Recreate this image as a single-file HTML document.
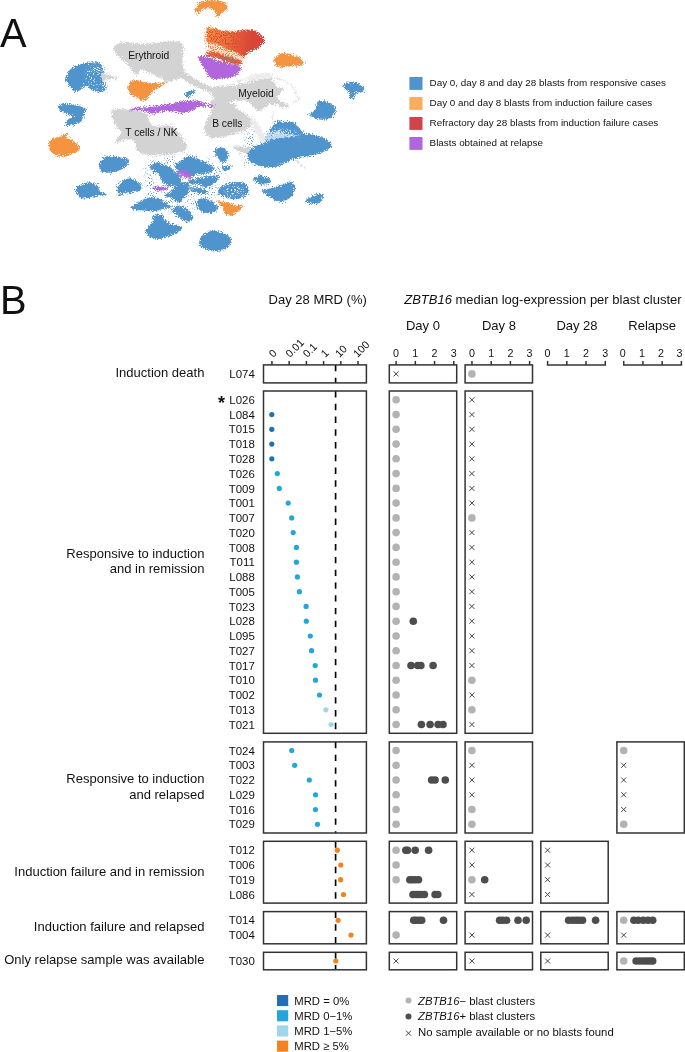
<!DOCTYPE html>
<html lang="en"><head><meta charset="utf-8"><title>Figure</title>
<style>html,body{margin:0;padding:0;background:#fff}svg{display:block}text{font-family:"Liberation Sans", sans-serif;fill:#111}</style></head><body>
<svg width="685" height="1052" viewBox="0 0 685 1052">
<defs><filter id="rough" x="-5%" y="-5%" width="110%" height="110%"><feTurbulence type="fractalNoise" baseFrequency="1.1" numOctaves="2" seed="3" result="n"/><feDisplacementMap in="SourceGraphic" in2="n" scale="7" xChannelSelector="R" yChannelSelector="G"/></filter><filter id="speck" color-interpolation-filters="sRGB" x="-10%" y="-10%" width="120%" height="120%"><feTurbulence type="fractalNoise" baseFrequency="0.95" numOctaves="1" seed="7" result="n"/><feColorMatrix in="n" type="matrix" values="0 0 0 0 0.31  0 0 0 0 0.58  0 0 0 0 0.80  9 0 0 0 -5.4" result="s"/><feGaussianBlur in="SourceGraphic" stdDeviation="2.5" result="m"/><feComposite in="s" in2="m" operator="in"/></filter><filter id="speckw" color-interpolation-filters="sRGB" x="-10%" y="-10%" width="120%" height="120%"><feTurbulence type="fractalNoise" baseFrequency="0.95" numOctaves="1" seed="23" result="n"/><feColorMatrix in="n" type="matrix" values="0 0 0 0 1  0 0 0 0 1  0 0 0 0 1  9 0 0 0 -5.2" result="s"/><feGaussianBlur in="SourceGraphic" stdDeviation="1.5" result="m"/><feComposite in="s" in2="m" operator="in"/></filter><filter id="speckr" color-interpolation-filters="sRGB" x="-10%" y="-10%" width="120%" height="120%"><feTurbulence type="fractalNoise" baseFrequency="0.9" numOctaves="1" seed="31" result="n"/><feColorMatrix in="n" type="matrix" values="0 0 0 0 0.86  0 0 0 0 0.28  0 0 0 0 0.22  9 0 0 0 -4.5" result="s"/><feGaussianBlur in="SourceGraphic" stdDeviation="1.5" result="m"/><feComposite in="s" in2="m" operator="in"/></filter><filter id="specko" color-interpolation-filters="sRGB" x="-10%" y="-10%" width="120%" height="120%"><feTurbulence type="fractalNoise" baseFrequency="0.95" numOctaves="1" seed="11" result="n"/><feColorMatrix in="n" type="matrix" values="0 0 0 0 0.94  0 0 0 0 0.50  0 0 0 0 0.24  9 0 0 0 -4.7" result="s"/><feGaussianBlur in="SourceGraphic" stdDeviation="1.2" result="m"/><feComposite in="s" in2="m" operator="in"/></filter><linearGradient id="redgrad" gradientUnits="userSpaceOnUse" x1="206" y1="36" x2="265" y2="44"><stop offset="0" stop-color="#f28c3c"/><stop offset="0.3" stop-color="#ee7a3a"/><stop offset="0.55" stop-color="#e35a38"/><stop offset="0.75" stop-color="#db4538"/><stop offset="1" stop-color="#d94238"/></linearGradient></defs>
<rect width="685" height="1052" fill="#fff"/>
<text x="0" y="46.7" font-size="39.8" fill="#000">A</text>
<path d="M150.0,160.0C155.3,155.8 166.2,155.5 175.0,155.0C183.8,154.5 194.8,154.5 203.0,157.0C211.2,159.5 220.8,164.2 224.0,170.0C227.2,175.8 225.2,185.7 222.0,192.0C218.8,198.3 212.8,205.0 205.0,208.0C197.2,211.0 184.2,211.3 175.0,210.0C165.8,208.7 155.3,205.0 150.0,200.0C144.7,195.0 143.0,186.7 143.0,180.0C143.0,173.3 144.7,164.2 150.0,160.0Z" fill="#000" filter="url(#speck)"/>
<path d="M262.0,136.0C263.0,133.0 268.2,128.8 272.0,128.0C275.8,127.2 280.3,130.0 285.0,131.0C289.7,132.0 298.8,132.7 300.0,134.0C301.2,135.3 295.7,137.7 292.0,139.0C288.3,140.3 282.3,140.8 278.0,142.0C273.7,143.2 268.7,147.0 266.0,146.0C263.3,145.0 261.0,139.0 262.0,136.0Z" fill="#000" filter="url(#speck)"/>
<path d="M244.0,126.0C247.3,125.7 257.7,133.0 260.0,138.0C262.3,143.0 260.3,151.3 258.0,156.0C255.7,160.7 249.7,165.7 246.0,166.0C242.3,166.3 237.0,162.3 236.0,158.0C235.0,153.7 238.7,145.3 240.0,140.0C241.3,134.7 240.7,126.3 244.0,126.0Z" fill="#000" filter="url(#speck)"/>
<path d="M92.0,66.0C94.0,64.0 101.3,63.7 104.0,66.0C106.7,68.3 107.7,75.7 108.0,80.0C108.3,84.3 108.0,90.7 106.0,92.0C104.0,93.3 98.3,90.3 96.0,88.0C93.7,85.7 92.7,81.7 92.0,78.0C91.3,74.3 90.0,68.0 92.0,66.0Z" fill="#000" filter="url(#speck)"/>
<path d="M207.0,42.0C209.5,41.2 216.8,44.2 222.0,46.0C227.2,47.8 234.0,51.2 238.0,53.0C242.0,54.8 245.3,55.5 246.0,57.0C246.7,58.5 245.0,61.8 242.0,62.0C239.0,62.2 232.3,59.3 228.0,58.0C223.7,56.7 219.5,55.2 216.0,54.0C212.5,52.8 208.5,53.0 207.0,51.0C205.5,49.0 204.5,42.8 207.0,42.0Z" fill="#000" filter="url(#specko)"/>
<g filter="url(#rough)">
<path d="M113.5,49.0C113.9,47.5 114.9,45.1 117.2,43.9C119.5,42.7 123.3,41.9 127.4,41.9C131.5,41.9 137.0,43.7 141.8,43.9C146.6,44.1 151.2,43.3 156.0,42.9C160.8,42.5 166.3,41.7 170.4,41.5C174.5,41.3 178.5,40.8 180.6,41.9C182.7,43.0 182.9,44.8 183.2,48.0C183.5,51.2 182.2,57.2 182.6,61.3C183.0,65.3 183.2,69.1 185.8,72.3C188.4,75.5 194.0,78.0 198.1,80.4C202.2,82.8 206.3,85.2 210.4,86.6C214.5,88.0 219.2,88.9 222.6,89.0C226.0,89.1 229.6,85.2 231.0,87.0C232.4,88.8 232.4,97.6 231.0,100.0C229.6,102.4 225.4,101.9 222.6,101.5C219.8,101.1 216.8,99.2 214.4,97.5C212.0,95.8 212.0,93.6 208.3,91.5C204.6,89.4 196.4,87.1 192.0,85.0C187.6,82.9 185.8,79.4 181.7,78.8C177.6,78.2 170.8,81.6 167.4,81.5C164.0,81.4 164.2,79.8 161.3,78.4C158.4,77.0 153.4,74.4 150.0,73.0C146.6,71.6 143.3,69.7 140.9,70.0C138.5,70.3 137.5,75.7 135.5,75.0C133.5,74.3 131.5,68.8 129.0,66.0C126.5,63.2 122.7,60.2 120.4,58.0C118.1,55.8 116.2,54.5 115.0,53.0C113.8,51.5 113.1,50.5 113.5,49.0Z" fill="#d3d3d3"/>
<path d="M100.0,73.6C101.2,72.6 105.0,74.3 108.0,75.0C111.0,75.7 118.2,77.0 118.2,77.7C118.2,78.5 110.9,79.0 108.0,79.5C105.1,80.0 102.3,82.0 101.0,81.0C99.7,80.0 98.8,74.6 100.0,73.6Z" fill="#d3d3d3"/>
<path d="M215.0,87.7C216.3,85.3 220.3,86.7 222.9,86.4C225.5,86.1 228.2,86.0 230.8,85.7C233.4,85.4 235.8,84.9 238.6,84.4C241.4,83.9 244.7,83.3 247.8,82.5C250.9,81.7 254.4,80.5 257.0,79.8C259.6,79.1 261.4,78.9 263.6,78.5C265.8,78.1 268.7,77.2 270.2,77.5C271.7,77.8 272.0,79.5 272.8,80.5C273.6,81.5 273.9,82.6 274.8,83.8C275.7,85.0 276.8,87.0 278.1,87.7C279.4,88.4 282.1,87.1 282.7,87.7C283.3,88.3 282.6,90.5 282.0,91.6C281.4,92.7 280.3,93.3 279.4,94.3C278.5,95.3 276.6,96.5 276.8,97.6C277.0,98.7 279.2,99.8 280.7,100.8C282.2,101.8 284.5,102.6 285.9,103.5C287.3,104.4 288.9,105.3 289.2,106.1C289.5,106.9 288.9,107.9 287.9,108.1C286.9,108.3 285.1,108.0 283.3,107.4C281.5,106.9 278.8,105.3 276.8,104.8C274.8,104.2 273.0,104.0 271.5,104.1C270.0,104.2 268.9,104.6 267.6,105.4C266.3,106.2 264.9,107.8 263.6,108.7C262.3,109.6 261.0,110.6 259.7,110.7C258.4,110.8 256.8,110.2 255.7,109.4C254.6,108.6 254.2,107.3 253.1,106.1C252.0,104.9 250.7,103.2 249.2,102.2C247.7,101.2 246.1,100.4 243.9,100.2C241.7,100.0 238.6,100.6 236.0,100.8C233.4,101.0 230.5,101.2 228.1,101.5C225.7,101.8 223.8,102.9 221.6,102.8C219.4,102.7 216.1,103.3 215.0,100.8C213.9,98.3 213.7,90.1 215.0,87.7Z" fill="#d3d3d3"/>
<path d="M236.0,81.8C239.1,81.0 248.7,78.1 254.4,77.2C260.1,76.3 265.8,75.9 270.2,76.3C274.6,76.7 277.2,78.3 280.7,79.8C284.2,81.3 288.6,82.7 291.2,85.1C293.8,87.5 295.2,91.9 296.5,94.3C297.8,96.7 299.4,98.1 299.1,99.5C298.8,100.9 295.3,102.0 294.5,102.5" fill="none" stroke="#e4e4e4" stroke-width="1.3" stroke-linecap="round"/>
<path d="M274.1,106.1C273.9,107.6 273.3,112.0 273.0,115.0C272.7,118.0 272.3,122.5 272.2,124.0" fill="none" stroke="#e6e6e6" stroke-width="1.0" stroke-linecap="round"/>
<path d="M252.9,119.9C253.8,121.2 256.0,124.9 258.0,128.0C260.0,131.1 263.6,136.6 264.7,138.3" fill="none" stroke="#e2e2e2" stroke-width="1.6" stroke-linecap="round"/>
<path d="M296.2,160.0C296.8,160.7 298.6,162.6 300.0,164.0C301.4,165.4 304.0,167.8 304.8,168.5" fill="none" stroke="#dcdcdc" stroke-width="1.2" stroke-linecap="round"/>
<path d="M250.0,75.5C252.2,74.2 258.3,73.8 262.0,73.5C265.7,73.2 270.7,72.9 272.0,73.5C273.3,74.1 272.3,76.1 270.0,77.0C267.7,77.9 261.5,78.3 258.0,79.0C254.5,79.7 250.3,81.6 249.0,81.0C247.7,80.4 247.8,76.8 250.0,75.5Z" fill="#ececec"/>
<path d="M204.5,127.4C204.8,125.0 206.6,121.8 207.6,119.3C208.6,116.8 209.5,114.1 210.7,112.1C211.9,110.0 213.0,107.8 215.0,107.0C217.0,106.2 220.3,107.6 222.9,107.4C225.5,107.2 228.2,105.7 230.8,106.1C233.4,106.5 236.2,108.7 238.6,110.0C241.0,111.3 243.2,112.6 245.2,114.0C247.2,115.4 249.4,117.1 250.5,118.6C251.6,120.1 252.0,121.7 251.8,123.2C251.6,124.7 251.2,126.0 249.5,127.4C247.8,128.8 244.4,130.3 241.3,131.5C238.2,132.7 234.5,133.6 231.1,134.6C227.7,135.6 224.3,137.2 220.9,137.7C217.5,138.2 213.3,138.4 210.7,137.7C208.1,137.0 206.5,135.3 205.5,133.6C204.5,131.9 204.2,129.8 204.5,127.4Z" fill="#d3d3d3"/>
<path d="M212.0,100.0C214.0,99.2 220.0,100.2 224.0,101.0C228.0,101.8 234.7,103.5 236.0,105.0C237.3,106.5 234.7,109.2 232.0,110.0C229.3,110.8 223.3,110.7 220.0,110.0C216.7,109.3 213.3,107.7 212.0,106.0C210.7,104.3 210.0,100.8 212.0,100.0Z" fill="#d3d3d3"/>
<path d="M251.0,117.0C251.5,115.8 254.2,118.8 256.0,121.0C257.8,123.2 260.3,126.7 262.0,130.0C263.7,133.3 266.0,138.3 266.0,141.0C266.0,143.7 263.3,146.7 262.0,146.0C260.7,145.3 259.5,140.0 258.0,137.0C256.5,134.0 254.2,131.3 253.0,128.0C251.8,124.7 250.5,118.2 251.0,117.0Z" fill="#ebebeb"/>
<path d="M111.4,111.1C112.2,109.4 115.1,109.4 117.8,109.1C120.5,108.8 124.3,109.2 127.5,109.5C130.7,109.8 134.2,110.6 137.1,111.1C140.0,111.6 143.2,111.9 145.1,112.7C147.0,113.5 147.7,114.6 148.4,115.9C149.1,117.2 148.4,119.1 149.2,120.7C150.0,122.3 151.2,124.6 153.2,125.5C155.2,126.4 158.3,126.3 161.2,126.3C164.1,126.2 168.4,124.7 170.8,125.2C173.2,125.7 174.1,127.8 175.7,129.5C177.3,131.2 179.2,133.3 180.5,135.1C181.8,136.8 182.6,138.1 183.7,140.0C184.8,141.9 186.8,144.7 186.9,146.4C187.0,148.1 186.1,149.3 184.5,150.4C182.9,151.5 180.4,152.1 177.3,152.8C174.2,153.5 170.0,154.3 166.0,154.7C162.0,155.1 157.2,155.4 153.2,155.2C149.2,155.0 144.6,154.4 141.9,153.6C139.2,152.8 138.2,151.9 137.1,150.4C136.0,148.9 136.3,146.5 135.5,144.8C134.7,143.1 134.2,140.8 132.3,140.0C130.4,139.2 127.2,139.5 124.3,140.0C121.3,140.5 115.5,143.8 114.6,143.2C113.7,142.6 117.6,138.6 118.7,136.7C119.8,134.8 121.6,133.8 121.1,131.9C120.5,130.0 116.8,127.6 115.4,125.5C114.1,123.4 113.7,121.5 113.0,119.1C112.3,116.7 110.6,112.8 111.4,111.1Z" fill="#d3d3d3"/>
<path d="M233.0,147.0C233.3,146.2 239.0,146.7 242.0,147.0C245.0,147.3 250.0,148.0 251.0,149.0C252.0,150.0 249.8,152.5 248.0,153.0C246.2,153.5 242.5,153.0 240.0,152.0C237.5,151.0 232.7,147.8 233.0,147.0Z" fill="#d3d3d3"/>
<path d="M66.1,77.7C66.5,75.8 67.5,72.5 69.2,70.5C70.9,68.5 73.5,66.7 76.4,65.4C79.3,64.1 83.2,63.4 86.6,62.9C90.0,62.4 94.2,61.9 96.8,62.3C99.3,62.7 100.7,63.9 101.9,65.4C103.1,66.9 104.1,69.5 103.9,71.5C103.7,73.5 100.9,75.7 100.9,77.7C100.9,79.8 103.2,81.8 103.9,83.8C104.7,85.8 105.9,88.5 105.4,89.9C104.9,91.3 103.4,92.2 100.9,92.0C98.5,91.8 93.4,89.9 90.7,88.9C88.0,87.9 86.2,85.6 84.5,85.8C82.8,86.0 81.9,89.1 80.4,89.9C78.9,90.8 77.0,91.4 75.3,90.9C73.6,90.4 71.7,88.4 70.2,86.9C68.7,85.4 67.2,83.3 66.5,81.8C65.8,80.3 65.6,79.6 66.1,77.7Z" fill="#4f94cd"/>
<path d="M58.0,106.3C58.7,105.2 61.7,104.1 64.5,103.9C67.3,103.7 71.5,104.7 74.7,105.3C77.9,105.9 82.0,106.6 83.9,107.4C85.8,108.2 86.0,108.9 86.0,110.4C86.0,111.9 84.8,114.7 83.9,116.6C83.1,118.5 82.8,120.3 80.9,121.7C79.0,123.1 75.3,124.0 72.7,124.7C70.1,125.4 66.5,126.5 65.5,125.8C64.5,125.1 65.4,122.2 66.6,120.7C67.8,119.2 72.7,117.8 72.7,116.6C72.7,115.4 68.6,114.5 66.6,113.5C64.5,112.5 61.8,111.6 60.4,110.4C59.0,109.2 57.3,107.4 58.0,106.3Z" fill="#4f94cd"/>
<path d="M185.4,92.7C186.1,91.5 189.1,91.0 190.9,90.7C192.7,90.4 195.9,90.1 196.1,90.7C196.3,91.3 193.5,93.1 192.0,94.3C190.5,95.5 188.0,98.1 186.9,97.8C185.8,97.5 184.7,93.9 185.4,92.7Z" fill="#4f94cd"/>
<path d="M342.2,86.6C342.5,85.4 345.8,83.2 347.9,82.5C350.0,81.8 352.8,81.6 355.0,82.1C357.2,82.6 359.6,84.2 361.2,85.5C362.8,86.8 364.8,89.1 364.6,90.2C364.4,91.3 361.7,91.7 360.1,92.3C358.5,92.9 355.9,92.8 355.0,93.7C354.1,94.6 355.1,97.0 354.4,97.8C353.7,98.6 351.8,99.1 350.9,98.8C350.0,98.5 349.1,96.8 348.9,95.8C348.7,94.8 350.4,93.7 349.9,92.7C349.4,91.7 347.1,90.6 345.8,89.6C344.5,88.6 341.9,87.8 342.2,86.6Z" fill="#4f94cd"/>
<path d="M308.0,115.2C308.2,114.0 313.7,112.3 315.2,110.1C316.7,107.9 315.5,103.3 317.2,101.9C318.9,100.5 322.8,101.0 325.4,101.5C328.0,102.0 330.8,103.6 332.6,105.0C334.4,106.4 335.7,108.4 336.0,110.1C336.3,111.8 335.7,113.8 334.6,115.2C333.5,116.6 331.7,117.5 329.5,118.2C327.3,119.0 323.9,119.9 321.3,119.7C318.8,119.5 316.4,118.0 314.2,117.2C312.0,116.5 307.8,116.4 308.0,115.2Z" fill="#4f94cd"/>
<path d="M265.0,137.0C265.7,135.0 268.7,131.7 272.0,131.0C275.3,130.3 280.7,132.2 285.0,133.0C289.3,133.8 296.8,134.7 298.0,135.5C299.2,136.3 295.3,137.2 292.0,138.0C288.7,138.8 282.0,139.2 278.0,140.0C274.0,140.8 270.2,143.5 268.0,143.0C265.8,142.5 264.3,139.0 265.0,137.0Z" fill="#4f94cd" fill-opacity="0.35"/>
<path d="M269.3,130.4C269.3,129.3 272.2,126.8 273.9,125.1C275.5,123.4 277.2,121.0 279.2,120.5C281.2,120.0 283.7,121.8 285.7,121.9C287.7,122.0 289.2,120.8 291.0,121.2C292.8,121.6 294.9,123.3 296.2,124.5C297.5,125.7 297.8,127.2 298.9,128.4C300.0,129.6 302.8,130.5 302.8,131.7C302.8,132.9 301.0,135.1 299.0,135.5C297.0,135.9 293.4,134.7 291.0,134.3C288.6,133.9 286.4,133.7 284.4,133.0C282.4,132.3 280.9,130.6 279.2,130.4C277.4,130.2 275.5,131.7 273.9,131.7C272.2,131.7 269.3,131.5 269.3,130.4Z" fill="#4f94cd"/>
<path d="M247.6,155.4C247.8,153.8 249.0,151.6 250.3,150.1C251.6,148.6 253.3,147.4 255.5,146.2C257.7,145.0 260.8,143.9 263.4,142.9C266.0,141.9 268.7,141.0 271.3,140.2C273.9,139.4 276.4,138.8 279.2,138.3C282.0,137.8 285.3,137.4 288.4,137.0C291.5,136.6 295.0,136.2 297.6,135.7C300.2,135.1 301.9,133.9 304.1,133.7C306.3,133.5 308.3,133.9 310.7,134.3C313.1,134.7 316.0,135.4 318.6,136.3C321.2,137.2 324.4,138.4 326.5,139.6C328.6,140.8 330.5,142.2 331.1,143.5C331.8,144.8 331.4,146.3 330.4,147.5C329.4,148.7 327.1,149.8 325.1,150.8C323.1,151.8 321.0,152.5 318.6,153.4C316.2,154.3 313.3,155.3 310.7,156.0C308.1,156.7 305.4,156.9 302.8,157.3C300.2,157.7 297.3,157.9 294.9,158.6C292.5,159.3 290.4,160.3 288.4,161.3C286.4,162.3 285.1,163.7 283.1,164.6C281.1,165.5 278.9,166.1 276.5,166.5C274.1,166.9 271.3,167.3 268.7,167.2C266.1,167.1 263.2,166.4 260.8,165.9C258.4,165.4 256.2,164.9 254.2,163.9C252.2,162.9 250.0,161.4 248.9,160.0C247.8,158.6 247.4,157.1 247.6,155.4Z" fill="#4f94cd"/>
<path d="M99.2,165.3C99.5,163.6 100.3,160.7 101.9,159.2C103.5,157.7 105.8,156.3 109.0,156.1C112.2,155.9 118.0,157.3 121.3,157.8C124.5,158.3 127.5,157.9 128.5,159.2C129.5,160.4 128.6,163.6 127.4,165.3C126.2,167.0 124.0,168.2 121.3,169.4C118.6,170.6 114.2,172.1 111.1,172.5C108.0,172.9 104.8,172.6 102.9,172.1C101.0,171.6 100.5,170.5 99.9,169.4C99.3,168.3 98.9,167.0 99.2,165.3Z" fill="#4f94cd"/>
<path d="M75.9,188.8C76.4,187.3 77.9,185.8 80.4,184.7C82.9,183.6 87.8,182.1 90.7,182.3C93.6,182.5 96.3,184.4 97.8,185.8C99.3,187.2 98.5,189.4 99.9,190.9C101.3,192.4 106.5,193.8 106.0,194.6C105.5,195.4 99.7,195.4 96.8,196.0C93.9,196.6 91.3,197.7 88.6,198.0C85.9,198.3 82.3,198.7 80.4,198.0C78.5,197.3 78.2,195.4 77.4,193.9C76.7,192.4 75.4,190.3 75.9,188.8Z" fill="#4f94cd"/>
<path d="M118.2,185.8C119.0,184.1 120.4,181.9 122.3,180.7C124.2,179.5 126.9,178.4 129.5,178.6C132.1,178.8 135.6,180.3 137.7,181.7C139.8,183.1 141.6,185.3 141.8,186.8C142.0,188.3 140.8,189.9 138.7,190.9C136.6,191.9 132.4,192.4 129.5,192.9C126.6,193.4 123.2,193.4 121.3,193.9C119.4,194.4 118.8,196.5 118.2,196.0C117.6,195.5 117.8,192.6 117.8,190.9C117.8,189.2 117.5,187.5 118.2,185.8Z" fill="#4f94cd"/>
<path d="M131.5,207.2C132.5,205.8 136.6,202.7 139.7,201.1C142.8,199.5 146.8,197.9 149.9,197.4C153.0,196.9 155.4,197.1 158.1,198.0C160.8,198.9 164.2,201.6 166.3,203.1C168.4,204.6 171.1,206.2 170.4,207.2C169.7,208.2 165.3,208.6 162.2,209.3C159.1,210.0 155.4,211.1 152.0,211.3C148.6,211.5 144.9,210.6 141.8,210.3C138.7,210.0 135.3,210.2 133.6,209.7C131.9,209.2 130.5,208.6 131.5,207.2Z" fill="#4f94cd"/>
<path d="M145.8,230.7C146.2,229.2 148.7,227.3 149.9,225.6C151.1,223.9 152.6,222.1 153.0,220.5C153.4,218.9 151.0,216.8 152.4,215.8C153.8,214.8 159.2,213.8 161.2,214.4C163.2,215.0 162.7,218.0 164.2,219.5C165.7,221.0 167.4,222.3 170.4,223.6C173.4,224.9 180.7,226.0 182.0,227.3C183.3,228.7 180.4,230.3 178.5,231.7C176.6,233.1 173.5,234.6 170.4,235.8C167.3,237.0 163.2,238.6 160.1,238.9C157.0,239.2 154.1,238.6 152.0,237.9C149.9,237.2 148.5,236.0 147.5,234.8C146.5,233.6 145.4,232.2 145.8,230.7Z" fill="#4f94cd"/>
<path d="M171.9,209.5C172.2,208.3 174.9,206.8 177.0,206.4C179.1,206.1 182.0,206.4 184.2,207.4C186.4,208.4 189.0,210.7 190.3,212.6C191.7,214.5 192.8,217.2 192.3,218.7C191.8,220.2 189.1,221.8 187.2,221.8C185.3,221.8 183.1,220.1 181.1,218.7C179.1,217.3 176.5,215.1 175.0,213.6C173.5,212.1 171.6,210.7 171.9,209.5Z" fill="#4f94cd"/>
<path d="M174.6,165.1C175.0,163.8 178.7,163.1 180.5,161.8C182.3,160.5 183.9,158.1 185.7,157.2C187.4,156.3 189.0,156.4 191.0,156.6C193.0,156.8 195.4,157.6 197.6,158.5C199.8,159.4 201.9,160.7 204.1,161.8C206.3,162.9 209.0,164.0 210.7,165.1C212.3,166.2 213.8,167.3 214.0,168.4C214.2,169.5 213.2,170.9 212.0,171.7C210.8,172.5 208.8,172.6 206.8,173.0C204.8,173.4 202.4,174.0 200.2,174.3C198.0,174.6 195.6,174.7 193.6,175.0C191.6,175.3 190.2,176.6 188.4,176.3C186.7,176.0 184.9,174.1 183.1,173.0C181.3,171.9 179.2,171.0 177.8,169.7C176.4,168.4 174.2,166.4 174.6,165.1Z" fill="#4f94cd"/>
<path d="M150.3,167.1C150.7,166.0 152.9,163.9 154.2,163.1C155.5,162.3 156.3,162.2 158.1,162.5C159.8,162.8 162.5,164.1 164.7,165.1C166.9,166.1 169.3,167.1 171.3,168.4C173.3,169.7 175.0,171.4 176.5,173.0C178.0,174.6 179.6,176.6 180.5,178.2C181.4,179.8 182.2,181.6 181.8,182.8C181.4,184.0 179.6,184.9 177.8,185.5C176.1,186.1 173.5,186.4 171.3,186.1C169.1,185.8 166.4,184.6 164.7,183.5C162.9,182.4 161.7,181.0 160.8,179.6C159.9,178.2 160.4,176.3 159.5,175.0C158.6,173.7 156.8,172.6 155.5,171.7C154.2,170.8 152.5,170.5 151.6,169.7C150.7,168.9 149.9,168.2 150.3,167.1Z" fill="#4f94cd"/>
<path d="M188.4,180.2C189.7,179.4 194.5,178.8 197.6,178.2C200.7,177.6 204.0,177.3 206.8,176.9C209.6,176.5 212.4,175.7 214.6,175.6C216.8,175.5 219.3,175.6 219.9,176.3C220.5,177.0 218.8,178.5 217.9,179.6C217.0,180.7 215.8,181.7 214.6,182.8C213.4,183.9 212.2,185.3 210.7,186.1C209.2,186.9 207.2,187.5 205.4,187.4C203.7,187.3 201.9,186.0 200.2,185.5C198.4,185.0 196.7,184.6 194.9,184.2C193.2,183.8 190.8,183.5 189.7,182.8C188.6,182.1 187.1,181.0 188.4,180.2Z" fill="#4f94cd"/>
<path d="M165.4,195.3C165.7,194.2 169.5,192.2 171.3,190.7C173.2,189.2 174.5,187.4 176.5,186.1C178.5,184.8 181.1,183.4 183.1,182.8C185.1,182.2 187.3,181.9 188.4,182.8C189.5,183.7 189.7,186.6 189.7,188.1C189.7,189.6 189.3,190.5 188.4,192.0C187.5,193.5 185.7,195.7 184.4,197.3C183.1,199.0 181.6,201.0 180.5,201.9C179.4,202.8 178.9,203.0 177.8,202.6C176.7,202.2 175.3,200.2 173.9,199.3C172.5,198.4 170.7,198.0 169.3,197.3C167.9,196.6 165.1,196.4 165.4,195.3Z" fill="#4f94cd"/>
<path d="M190.3,188.1C191.2,187.4 195.3,187.2 197.6,187.4C199.9,187.6 202.3,188.6 204.1,189.4C205.8,190.2 208.1,191.2 208.1,192.0C208.1,192.8 205.8,193.9 204.1,194.0C202.3,194.1 199.6,193.1 197.6,192.7C195.6,192.3 193.5,192.2 192.3,191.4C191.1,190.6 189.4,188.8 190.3,188.1Z" fill="#4f94cd"/>
<path d="M214.0,151.3C214.1,150.2 215.2,149.2 216.5,148.6C217.8,148.0 220.3,147.6 222.0,147.8C223.7,148.0 225.4,148.8 226.5,150.0C227.6,151.2 228.4,153.7 228.4,155.3C228.4,157.0 227.5,158.6 226.5,159.9C225.5,161.2 223.7,163.2 222.5,163.1C221.3,163.0 220.3,160.5 219.2,159.2C218.1,157.9 216.9,156.6 216.0,155.3C215.1,154.0 213.9,152.4 214.0,151.3Z" fill="#4f94cd"/>
<path d="M221.9,167.7C222.1,166.8 225.5,166.2 227.1,165.8C228.7,165.4 231.3,164.9 231.7,165.5C232.1,166.1 230.7,168.2 229.7,169.1C228.7,170.0 227.1,171.2 225.8,171.0C224.5,170.8 221.7,168.6 221.9,167.7Z" fill="#4f94cd"/>
<path d="M218.3,191.1C218.7,189.6 219.7,187.4 222.0,186.0C224.3,184.6 228.8,183.5 232.2,182.9C235.6,182.3 239.8,181.8 242.4,182.3C245.0,182.8 246.6,184.4 247.5,186.0C248.4,187.6 248.8,190.2 248.1,192.1C247.4,194.0 245.7,196.0 243.4,197.2C241.1,198.4 237.1,199.3 234.2,199.3C231.3,199.3 228.5,197.9 226.1,197.2C223.7,196.5 221.2,196.2 219.9,195.2C218.6,194.2 218.0,192.6 218.3,191.1Z" fill="#4f94cd"/>
<path d="M197.6,199.9C198.6,198.8 200.6,198.5 202.8,198.6C205.0,198.7 208.4,199.5 210.7,200.6C213.0,201.7 215.4,203.8 216.6,205.2C217.8,206.6 218.4,207.9 217.9,209.1C217.4,210.3 215.2,211.7 213.3,212.4C211.5,213.1 209.0,213.4 206.8,213.1C204.6,212.8 201.8,211.7 200.2,210.4C198.5,209.1 197.3,206.9 196.9,205.2C196.5,203.4 196.6,201.0 197.6,199.9Z" fill="#4f94cd"/>
<path d="M199.5,245.2C198.7,243.3 199.5,240.1 200.5,238.0C201.5,235.9 203.0,234.1 205.6,232.9C208.2,231.7 212.6,230.7 215.8,230.9C219.0,231.1 222.5,232.6 225.0,233.9C227.5,235.2 230.1,236.9 230.8,239.0C231.5,241.1 230.6,244.4 229.1,246.2C227.6,248.0 224.7,248.8 222.0,249.7C219.3,250.5 215.5,251.4 212.8,251.3C210.1,251.2 207.8,250.3 205.6,249.3C203.4,248.3 200.3,247.1 199.5,245.2Z" fill="#4f94cd"/>
<path d="M253.7,178.0C254.5,177.2 258.5,176.0 260.9,176.0C263.3,176.0 266.4,177.2 268.0,178.0C269.6,178.8 270.9,180.1 270.7,181.1C270.5,182.1 268.8,183.7 267.0,184.2C265.2,184.7 261.8,184.7 259.9,184.2C258.0,183.7 256.8,182.1 255.8,181.1C254.8,180.1 252.8,178.8 253.7,178.0Z" fill="#4f94cd"/>
<path d="M261.9,190.3C262.6,189.1 267.9,189.0 271.1,188.2C274.3,187.3 278.2,186.3 281.3,185.2C284.4,184.1 287.5,181.7 289.5,181.5C291.5,181.3 292.2,182.7 293.2,184.2C294.1,185.7 295.5,188.3 295.2,190.3C294.9,192.3 293.1,194.7 291.5,196.4C289.9,198.1 287.4,199.6 285.4,200.5C283.4,201.4 281.4,202.1 279.3,201.9C277.2,201.7 275.2,200.6 273.1,199.5C271.1,198.4 268.9,196.9 267.0,195.4C265.1,193.9 261.2,191.5 261.9,190.3Z" fill="#4f94cd"/>
<path d="M305.4,200.5C305.8,199.4 309.6,197.5 312.0,196.4C314.4,195.3 318.2,194.0 320.1,193.8C322.0,193.6 323.0,194.3 323.2,195.4C323.4,196.5 322.4,199.1 321.2,200.5C320.0,201.9 318.0,203.6 316.1,204.0C314.2,204.4 311.7,203.8 309.9,203.2C308.1,202.6 305.0,201.6 305.4,200.5Z" fill="#4f94cd"/>
<path d="M195.9,14.3C195.5,13.1 196.1,8.2 196.8,6.1C197.6,4.0 198.4,2.9 200.4,2.0C202.4,1.1 205.5,0.8 208.6,0.6C211.7,0.4 215.9,0.2 218.8,0.6C221.7,1.0 224.6,1.8 226.0,3.1C227.4,4.4 227.8,6.8 227.4,8.2C227.1,9.5 225.0,10.3 223.9,11.2C222.8,12.0 221.8,12.3 220.9,13.3C220.1,14.3 219.6,16.9 218.8,17.4C218.1,17.9 217.1,17.5 216.4,16.3C215.7,15.1 216.0,11.5 214.7,10.2C213.4,8.8 210.6,8.4 208.6,8.2C206.6,8.0 204.0,8.3 202.5,9.2C201.0,10.0 200.5,12.5 199.4,13.3C198.3,14.2 196.3,15.5 195.9,14.3Z" fill="#f5933f"/>
<path d="M128.2,87.6C128.2,85.6 129.3,82.8 130.7,81.5C132.1,80.2 134.1,79.8 136.8,80.0C139.5,80.2 143.6,82.0 147.0,82.5C150.4,83.0 154.0,83.0 157.2,83.0C160.4,83.0 165.8,81.8 166.0,82.6C166.2,83.4 160.5,85.9 158.2,87.6C155.9,89.3 153.8,91.0 152.1,92.7C150.4,94.4 149.4,96.4 148.0,97.8C146.6,99.2 145.8,100.9 143.9,100.9C142.0,100.9 139.0,99.0 136.8,97.8C134.6,96.6 132.1,95.4 130.7,93.7C129.3,92.0 128.2,89.6 128.2,87.6Z" fill="#f5933f"/>
<path d="M273.0,61.3C273.5,59.9 276.6,56.6 278.1,55.2C279.6,53.8 280.1,53.3 282.2,53.1C284.2,52.9 287.7,53.5 290.4,54.2C293.1,54.9 296.3,56.0 298.5,57.2C300.7,58.4 302.9,60.1 303.6,61.3C304.3,62.5 303.8,63.7 302.6,64.4C301.4,65.2 298.9,65.5 296.5,65.8C294.1,66.1 290.7,66.1 288.3,66.4C285.9,66.7 284.1,67.4 282.2,67.4C280.3,67.4 278.3,67.1 277.1,66.4C275.9,65.7 275.7,64.2 275.0,63.4C274.3,62.5 272.5,62.7 273.0,61.3Z" fill="#f5933f"/>
<path d="M49.2,141.1C50.4,139.3 53.2,138.6 56.3,137.4C59.4,136.2 65.9,133.8 67.6,133.9C69.3,134.0 65.6,136.8 66.6,138.0C67.6,139.2 71.5,139.4 73.7,141.1C75.9,142.8 79.7,146.3 79.9,148.2C80.1,150.1 76.6,151.1 74.7,152.3C72.8,153.5 71.0,154.7 68.6,155.4C66.2,156.1 62.9,156.6 60.4,156.4C57.9,156.2 55.2,155.8 53.3,154.4C51.4,153.0 49.9,150.4 49.2,148.2C48.5,146.0 48.0,142.9 49.2,141.1Z" fill="#f5933f"/>
<path d="M216.9,200.3C217.1,199.3 221.1,201.6 224.0,202.3C226.9,203.0 231.0,203.7 234.2,204.4C237.4,205.1 242.7,205.2 243.4,206.4C244.1,207.6 240.3,210.0 238.3,211.5C236.3,213.0 233.4,214.7 231.2,215.2C229.0,215.7 226.4,215.7 225.0,214.6C223.6,213.5 224.3,210.9 223.0,208.5C221.7,206.1 216.7,201.3 216.9,200.3Z" fill="#f5933f"/>
<path d="M198.1,56.8C198.4,56.0 201.6,55.9 203.1,56.0C204.6,56.1 207.9,57.0 209.7,57.5C211.5,58.0 214.4,59.3 216.3,60.0C218.2,60.7 222.1,61.8 224.2,62.4C226.3,63.0 229.8,63.8 232.0,64.3C234.2,64.8 239.5,65.2 240.6,66.0C241.7,66.8 240.5,69.4 239.9,70.6C239.3,71.8 237.4,74.3 236.0,75.2C234.6,76.1 231.3,77.1 229.4,77.5C227.5,77.9 223.6,78.3 221.5,78.5C219.4,78.7 215.3,79.1 213.6,78.9C211.9,78.7 210.1,78.0 209.1,77.2C208.1,76.4 207.1,73.9 206.4,72.6C205.7,71.3 204.6,68.7 203.8,67.3C203.0,65.9 201.3,63.4 200.5,62.0C199.7,60.6 197.8,57.6 198.1,56.8Z" fill="#b266de"/>
<path d="M209.7,43.7C212.1,43.6 218.4,46.0 222.8,47.6C227.2,49.2 232.5,52.0 236.0,53.5C239.5,55.0 242.9,55.7 243.9,56.8C244.9,57.9 244.3,60.1 241.9,60.1C239.5,60.1 233.2,57.9 229.4,56.8C225.6,55.7 222.0,54.4 218.9,53.5C215.8,52.6 212.8,52.2 211.0,51.3C209.2,50.4 208.6,49.5 208.4,48.2C208.2,46.9 207.3,43.8 209.7,43.7Z" fill="#f0883c" fill-opacity="0.25"/>
<path d="M206.4,28.5C207.3,27.1 210.0,27.4 212.3,27.6C214.6,27.8 217.3,29.2 220.2,29.9C223.0,30.6 226.3,31.5 229.4,31.6C232.5,31.7 235.8,30.9 238.6,30.5C241.4,30.1 244.1,29.5 246.5,29.5C248.9,29.5 251.1,29.9 253.1,30.5C255.1,31.1 256.9,32.1 258.3,33.1C259.7,34.1 260.5,35.1 261.6,36.4C262.7,37.7 264.9,39.7 264.9,41.0C264.9,42.3 262.7,43.1 261.6,44.3C260.5,45.5 259.7,47.3 258.3,48.3C256.9,49.3 254.8,49.5 253.1,50.2C251.3,51.0 249.1,51.8 247.8,52.8C246.5,53.8 246.3,55.6 245.2,56.1C244.1,56.6 242.7,56.0 241.2,55.5C239.7,55.0 238.0,53.7 236.0,52.8C234.0,51.9 231.6,51.2 229.4,50.2C227.2,49.2 225.0,47.9 222.8,46.9C220.6,45.9 218.5,44.9 216.3,44.3C214.1,43.6 211.5,43.4 209.7,43.0C207.9,42.6 205.9,42.9 205.5,41.7C205.1,40.5 206.9,38.0 207.1,35.8C207.2,33.6 205.5,29.9 206.4,28.5Z" fill="url(#redgrad)"/>
<path d="M205.8,52.8C206.6,52.2 208.8,51.4 211.0,51.5C213.2,51.6 216.3,52.7 218.9,53.5C221.5,54.3 224.2,55.2 226.8,56.1C229.4,57.0 232.2,58.0 234.7,58.8C237.2,59.6 240.8,59.8 241.9,60.7C243.0,61.6 242.2,63.3 241.2,64.0C240.2,64.7 238.0,64.9 236.0,64.7C234.0,64.5 231.6,63.4 229.4,62.7C227.2,62.0 225.0,61.5 222.8,60.7C220.6,59.9 218.5,58.9 216.3,58.1C214.1,57.3 211.3,56.6 209.7,56.1C208.0,55.6 207.1,55.8 206.4,55.2C205.8,54.7 205.0,53.4 205.8,52.8Z" fill="#e8663a"/>
<path d="M220.9,57.4C221.8,57.3 224.7,57.6 226.8,58.1C228.9,58.6 232.3,59.6 233.4,60.1C234.5,60.6 234.5,61.4 233.4,61.4C232.3,61.4 228.8,60.5 226.8,60.1C224.8,59.7 222.5,59.2 221.5,58.8C220.5,58.3 220.0,57.5 220.9,57.4Z" fill="#4a8cc4" fill-opacity="0.85"/>
<path d="M129.1,110.3C128.6,109.9 133.9,108.3 137.1,107.8C140.3,107.2 144.7,107.4 148.4,107.0C152.2,106.6 155.6,106.1 159.6,105.4C163.6,104.7 168.2,103.7 172.5,103.0C176.8,102.3 181.3,101.5 185.3,101.1C189.3,100.7 193.3,100.3 196.5,100.6C199.7,100.9 201.5,102.1 204.6,103.0C207.7,103.9 214.5,105.5 215.0,106.2C215.5,106.9 210.6,106.9 207.8,107.0C205.0,107.1 200.7,106.5 198.1,107.0C195.5,107.5 194.6,109.3 192.5,110.3C190.4,111.2 188.1,112.4 185.3,112.7C182.5,113.0 178.9,112.2 175.7,111.9C172.5,111.6 168.9,111.1 166.0,111.1C163.1,111.1 160.4,111.5 158.0,111.9C155.6,112.3 153.5,113.5 151.6,113.5C149.7,113.5 148.7,112.4 146.8,111.9C144.9,111.4 143.2,110.6 140.3,110.3C137.4,110.0 129.6,110.7 129.1,110.3Z" fill="#b266de"/>
<path d="M176.5,171.5C177.3,170.7 181.0,170.1 183.1,170.3C185.2,170.5 187.3,171.7 189.0,172.6C190.7,173.5 193.3,174.8 193.3,175.8C193.3,176.8 190.7,178.5 189.0,178.8C187.3,179.1 184.8,178.1 183.1,177.5C181.3,176.9 179.6,176.3 178.5,175.3C177.4,174.3 175.7,172.3 176.5,171.5Z" fill="#b266de" fill-opacity="0.9"/>
<path d="M153.1,188.8C153.1,188.1 156.2,186.8 158.1,186.5C160.0,186.2 162.9,186.5 164.7,186.8C166.5,187.1 168.7,187.6 168.7,188.1C168.7,188.6 166.5,189.7 164.7,190.1C162.9,190.5 160.0,190.9 158.1,190.7C156.2,190.5 153.1,189.5 153.1,188.8Z" fill="#b266de"/>
</g>
<path d="M88.0,68.0C90.3,65.7 97.3,64.3 100.0,66.0C102.7,67.7 103.5,74.0 104.0,78.0C104.5,82.0 104.7,88.5 103.0,90.0C101.3,91.5 96.8,88.7 94.0,87.0C91.2,85.3 87.0,83.2 86.0,80.0C85.0,76.8 85.7,70.3 88.0,68.0Z" fill="#000" filter="url(#speckw)"/>
<path d="M224.0,191.0C224.3,189.2 229.8,186.5 233.0,186.0C236.2,185.5 241.5,186.5 243.0,188.0C244.5,189.5 244.0,193.5 242.0,195.0C240.0,196.5 234.0,197.7 231.0,197.0C228.0,196.3 223.7,192.8 224.0,191.0Z" fill="#000" filter="url(#speckw)"/>
<path d="M272.0,131.0C273.7,129.8 278.3,129.0 282.0,129.0C285.7,129.0 291.3,129.8 294.0,131.0C296.7,132.2 299.7,135.0 298.0,136.0C296.3,137.0 288.3,137.0 284.0,137.0C279.7,137.0 274.0,137.0 272.0,136.0C270.0,135.0 270.3,132.2 272.0,131.0Z" fill="#000" filter="url(#speckw)"/>
<path d="M207.0,30.0C209.3,28.3 214.8,30.5 220.0,31.0C225.2,31.5 234.7,30.2 238.0,33.0C241.3,35.8 241.7,45.5 240.0,48.0C238.3,50.5 232.3,48.8 228.0,48.0C223.7,47.2 217.7,44.2 214.0,43.0C210.3,41.8 207.2,43.2 206.0,41.0C204.8,38.8 204.7,31.7 207.0,30.0Z" fill="#000" filter="url(#speckr)"/>
<path d="M206.0,53.0C208.0,52.7 213.7,53.2 218.0,54.0C222.3,54.8 228.2,56.8 232.0,58.0C235.8,59.2 239.7,60.0 241.0,61.0C242.3,62.0 242.2,63.8 240.0,64.0C237.8,64.2 232.3,63.0 228.0,62.0C223.7,61.0 217.7,59.0 214.0,58.0C210.3,57.0 207.3,56.8 206.0,56.0C204.7,55.2 204.0,53.3 206.0,53.0Z" fill="#000" filter="url(#speckr)"/>
<text x="148.7" y="59.4" font-size="10.25" text-anchor="middle">Erythroid</text>
<text x="256.0" y="96.8" font-size="10.25" text-anchor="middle">Myeloid</text>
<text x="227.3" y="126.6" font-size="10.25" text-anchor="middle">B cells</text>
<text x="151.4" y="136.4" font-size="10.25" text-anchor="middle">T cells / NK</text>
<rect x="409.4" y="77.0" width="13.1" height="12.9" fill="#4f94cd"/>
<text x="429.6" y="86.3" font-size="9.85">Day 0, day 8 and day 28 blasts from responsive cases</text>
<rect x="409.4" y="97.0" width="13.1" height="12.9" fill="#f9ad63"/>
<text x="429.6" y="106.3" font-size="9.85">Day 0 and day 8 blasts from induction failure cases</text>
<rect x="409.4" y="117.0" width="13.1" height="12.9" fill="#cf434a"/>
<text x="429.6" y="126.3" font-size="9.85">Refractory day 28 blasts from induction failure cases</text>
<rect x="409.4" y="137.0" width="13.1" height="12.9" fill="#b066dc"/>
<text x="429.6" y="146.3" font-size="9.85">Blasts obtained at relapse</text>
<text x="0" y="314" font-size="39.8" fill="#000">B</text>
<text x="268.6" y="304.2" font-size="13.0">Day 28 MRD (%)</text>
<text x="404.2" y="304.2" font-size="13.0"><tspan font-style="italic">ZBTB16</tspan> median log-expression per blast cluster</text>
<text x="422.9" y="329.6" font-size="13.0" text-anchor="middle">Day 0</text>
<text x="498.9" y="329.6" font-size="13.0" text-anchor="middle">Day 8</text>
<text x="577.0" y="329.6" font-size="13.0" text-anchor="middle">Day 28</text>
<text x="652.2" y="329.6" font-size="13.0" text-anchor="middle">Relapse</text>
<line x1="271.93" y1="360.9" x2="271.93" y2="364.9" stroke="#333" stroke-width="1.5"/>
<text transform="translate(273.3,358.0) rotate(-45)" font-size="10.7" >0</text>
<line x1="289.15" y1="360.9" x2="289.15" y2="364.9" stroke="#333" stroke-width="1.5"/>
<text transform="translate(289.9,358.0) rotate(-45)" font-size="10.7" >0.01</text>
<line x1="306.37" y1="360.9" x2="306.37" y2="364.9" stroke="#333" stroke-width="1.5"/>
<text transform="translate(307.3,358.0) rotate(-45)" font-size="10.7" >0.1</text>
<line x1="323.59" y1="360.9" x2="323.59" y2="364.9" stroke="#333" stroke-width="1.5"/>
<text transform="translate(325.3,358.0) rotate(-45)" font-size="10.7" >1</text>
<line x1="340.81" y1="360.9" x2="340.81" y2="364.9" stroke="#333" stroke-width="1.5"/>
<text transform="translate(339.4,358.0) rotate(-45)" font-size="10.7" >10</text>
<line x1="358.03" y1="360.9" x2="358.03" y2="364.9" stroke="#333" stroke-width="1.5"/>
<text transform="translate(357.5,358.0) rotate(-45)" font-size="10.7" >100</text>
<line x1="396.10" y1="360.9" x2="396.10" y2="364.9" stroke="#333" stroke-width="1.5"/>
<text x="396.1" y="357.3" font-size="10.7" text-anchor="middle">0</text>
<line x1="415.32" y1="360.9" x2="415.32" y2="364.9" stroke="#333" stroke-width="1.5"/>
<text x="415.3" y="357.3" font-size="10.7" text-anchor="middle">1</text>
<line x1="434.54" y1="360.9" x2="434.54" y2="364.9" stroke="#333" stroke-width="1.5"/>
<text x="434.5" y="357.3" font-size="10.7" text-anchor="middle">2</text>
<line x1="453.76" y1="360.9" x2="453.76" y2="364.9" stroke="#333" stroke-width="1.5"/>
<text x="453.8" y="357.3" font-size="10.7" text-anchor="middle">3</text>
<line x1="471.95" y1="360.9" x2="471.95" y2="364.9" stroke="#333" stroke-width="1.5"/>
<text x="471.9" y="357.3" font-size="10.7" text-anchor="middle">0</text>
<line x1="491.17" y1="360.9" x2="491.17" y2="364.9" stroke="#333" stroke-width="1.5"/>
<text x="491.2" y="357.3" font-size="10.7" text-anchor="middle">1</text>
<line x1="510.39" y1="360.9" x2="510.39" y2="364.9" stroke="#333" stroke-width="1.5"/>
<text x="510.4" y="357.3" font-size="10.7" text-anchor="middle">2</text>
<line x1="529.61" y1="360.9" x2="529.61" y2="364.9" stroke="#333" stroke-width="1.5"/>
<text x="529.6" y="357.3" font-size="10.7" text-anchor="middle">3</text>
<line x1="547.60" y1="360.9" x2="547.60" y2="364.9" stroke="#333" stroke-width="1.5"/>
<text x="547.6" y="357.3" font-size="10.7" text-anchor="middle">0</text>
<line x1="566.82" y1="360.9" x2="566.82" y2="364.9" stroke="#333" stroke-width="1.5"/>
<text x="566.8" y="357.3" font-size="10.7" text-anchor="middle">1</text>
<line x1="586.04" y1="360.9" x2="586.04" y2="364.9" stroke="#333" stroke-width="1.5"/>
<text x="586.0" y="357.3" font-size="10.7" text-anchor="middle">2</text>
<line x1="605.26" y1="360.9" x2="605.26" y2="364.9" stroke="#333" stroke-width="1.5"/>
<text x="605.3" y="357.3" font-size="10.7" text-anchor="middle">3</text>
<line x1="547.6" y1="364.9" x2="605.3" y2="364.9" stroke="#333" stroke-width="1.5" stroke-linecap="square"/>
<line x1="623.73" y1="360.9" x2="623.73" y2="364.9" stroke="#333" stroke-width="1.5"/>
<text x="622.8" y="357.3" font-size="10.7" text-anchor="middle">0</text>
<line x1="642.95" y1="360.9" x2="642.95" y2="364.9" stroke="#333" stroke-width="1.5"/>
<text x="641.9" y="357.3" font-size="10.7" text-anchor="middle">1</text>
<line x1="662.17" y1="360.9" x2="662.17" y2="364.9" stroke="#333" stroke-width="1.5"/>
<text x="660.9" y="357.3" font-size="10.7" text-anchor="middle">2</text>
<line x1="681.39" y1="360.9" x2="681.39" y2="364.9" stroke="#333" stroke-width="1.5"/>
<text x="679.6" y="357.3" font-size="10.7" text-anchor="middle">3</text>
<line x1="623.7" y1="364.9" x2="681.4" y2="364.9" stroke="#333" stroke-width="1.5" stroke-linecap="square"/>
<text x="204.4" y="377.1" font-size="13.0" text-anchor="end">Induction death</text>
<text x="254.8" y="378.0" font-size="11.45" text-anchor="end">L074</text>
<line x1="335.6" y1="364.9" x2="335.6" y2="382.9" stroke="#000" stroke-width="1.65" stroke-dasharray="6.38 6.38"/>
<rect x="263.5" y="364.9" width="102.9" height="18.0" fill="none" stroke="#333" stroke-width="1.5"/>
<rect x="389.3" y="364.9" width="67.4" height="18.0" fill="none" stroke="#333" stroke-width="1.5"/>
<path d="M393.6,371.4L398.6,376.4M393.6,376.4L398.6,371.4" stroke="#333" stroke-width="0.9" fill="none"/>
<rect x="465.1" y="364.9" width="67.4" height="18.0" fill="none" stroke="#333" stroke-width="1.5"/>
<circle cx="471.9" cy="373.9" r="3.8" fill="#b3b3b3"/>
<text x="204.4" y="558.1" font-size="13.0" text-anchor="end">Responsive to induction</text>
<text x="204.4" y="573.4" font-size="13.0" text-anchor="end">and in remission</text>
<text x="254.8" y="403.9" font-size="11.45" text-anchor="end">L026</text>
<text x="254.8" y="418.7" font-size="11.45" text-anchor="end">L084</text>
<text x="254.8" y="433.4" font-size="11.45" text-anchor="end">T015</text>
<text x="254.8" y="448.2" font-size="11.45" text-anchor="end">T018</text>
<text x="254.8" y="462.9" font-size="11.45" text-anchor="end">T028</text>
<text x="254.8" y="477.7" font-size="11.45" text-anchor="end">T026</text>
<text x="254.8" y="492.5" font-size="11.45" text-anchor="end">T009</text>
<text x="254.8" y="507.2" font-size="11.45" text-anchor="end">T001</text>
<text x="254.8" y="522.0" font-size="11.45" text-anchor="end">T007</text>
<text x="254.8" y="536.7" font-size="11.45" text-anchor="end">T020</text>
<text x="254.8" y="551.5" font-size="11.45" text-anchor="end">T008</text>
<text x="254.8" y="566.3" font-size="11.45" text-anchor="end">T011</text>
<text x="254.8" y="581.0" font-size="11.45" text-anchor="end">L088</text>
<text x="254.8" y="595.8" font-size="11.45" text-anchor="end">T005</text>
<text x="254.8" y="610.5" font-size="11.45" text-anchor="end">T023</text>
<text x="254.8" y="625.3" font-size="11.45" text-anchor="end">L028</text>
<text x="254.8" y="640.1" font-size="11.45" text-anchor="end">L095</text>
<text x="254.8" y="654.8" font-size="11.45" text-anchor="end">T027</text>
<text x="254.8" y="669.6" font-size="11.45" text-anchor="end">T017</text>
<text x="254.8" y="684.3" font-size="11.45" text-anchor="end">T010</text>
<text x="254.8" y="699.1" font-size="11.45" text-anchor="end">T002</text>
<text x="254.8" y="713.9" font-size="11.45" text-anchor="end">T013</text>
<text x="254.8" y="728.6" font-size="11.45" text-anchor="end">T021</text>
<line x1="335.6" y1="391.0" x2="335.6" y2="733.3" stroke="#000" stroke-width="1.65" stroke-dasharray="6.38 6.38"/>
<rect x="263.5" y="391.0" width="102.9" height="342.3" fill="none" stroke="#333" stroke-width="1.5"/>
<circle cx="271.8" cy="414.6" r="2.6" fill="#2070b9"/>
<circle cx="271.8" cy="429.3" r="2.6" fill="#2070b9"/>
<circle cx="271.8" cy="444.1" r="2.6" fill="#2070b9"/>
<circle cx="271.8" cy="458.8" r="2.6" fill="#2070b9"/>
<circle cx="277.3" cy="473.6" r="2.6" fill="#23a6dd"/>
<circle cx="279.3" cy="488.4" r="2.6" fill="#23a6dd"/>
<circle cx="288.2" cy="503.1" r="2.6" fill="#23a6dd"/>
<circle cx="291.7" cy="517.9" r="2.6" fill="#23a6dd"/>
<circle cx="293.2" cy="532.6" r="2.6" fill="#23a6dd"/>
<circle cx="296.4" cy="547.4" r="2.6" fill="#23a6dd"/>
<circle cx="296.4" cy="562.2" r="2.6" fill="#23a6dd"/>
<circle cx="297.4" cy="576.9" r="2.6" fill="#23a6dd"/>
<circle cx="299.4" cy="591.7" r="2.6" fill="#23a6dd"/>
<circle cx="306.1" cy="606.4" r="2.6" fill="#23a6dd"/>
<circle cx="306.3" cy="621.2" r="2.6" fill="#23a6dd"/>
<circle cx="310.3" cy="636.0" r="2.6" fill="#23a6dd"/>
<circle cx="311.5" cy="650.7" r="2.6" fill="#23a6dd"/>
<circle cx="315.2" cy="665.5" r="2.6" fill="#23a6dd"/>
<circle cx="315.5" cy="680.2" r="2.6" fill="#23a6dd"/>
<circle cx="319.5" cy="695.0" r="2.6" fill="#23a6dd"/>
<circle cx="325.9" cy="709.8" r="2.6" fill="#9fd6ee"/>
<circle cx="331.1" cy="724.5" r="2.6" fill="#9fd6ee"/>
<rect x="389.3" y="391.0" width="67.4" height="342.3" fill="none" stroke="#333" stroke-width="1.5"/>
<circle cx="396.1" cy="399.8" r="3.8" fill="#b3b3b3"/>
<circle cx="396.1" cy="414.6" r="3.8" fill="#b3b3b3"/>
<circle cx="396.1" cy="429.3" r="3.8" fill="#b3b3b3"/>
<circle cx="396.1" cy="444.1" r="3.8" fill="#b3b3b3"/>
<circle cx="396.1" cy="458.8" r="3.8" fill="#b3b3b3"/>
<circle cx="396.1" cy="473.6" r="3.8" fill="#b3b3b3"/>
<circle cx="396.1" cy="488.4" r="3.8" fill="#b3b3b3"/>
<circle cx="396.1" cy="503.1" r="3.8" fill="#b3b3b3"/>
<circle cx="396.1" cy="517.9" r="3.8" fill="#b3b3b3"/>
<circle cx="396.1" cy="532.6" r="3.8" fill="#b3b3b3"/>
<circle cx="396.1" cy="547.4" r="3.8" fill="#b3b3b3"/>
<circle cx="396.1" cy="562.2" r="3.8" fill="#b3b3b3"/>
<circle cx="396.1" cy="576.9" r="3.8" fill="#b3b3b3"/>
<circle cx="396.1" cy="591.7" r="3.8" fill="#b3b3b3"/>
<circle cx="396.1" cy="606.4" r="3.8" fill="#b3b3b3"/>
<circle cx="396.1" cy="621.2" r="3.8" fill="#b3b3b3"/>
<circle cx="413.3" cy="621.2" r="3.8" fill="#4d4d4d"/>
<circle cx="396.1" cy="636.0" r="3.8" fill="#b3b3b3"/>
<circle cx="396.1" cy="650.7" r="3.8" fill="#b3b3b3"/>
<circle cx="396.1" cy="665.5" r="3.8" fill="#b3b3b3"/>
<circle cx="411.0" cy="665.5" r="3.8" fill="#4d4d4d"/>
<circle cx="417.7" cy="665.5" r="3.8" fill="#4d4d4d"/>
<circle cx="420.9" cy="665.5" r="3.8" fill="#4d4d4d"/>
<circle cx="433.1" cy="665.5" r="3.8" fill="#4d4d4d"/>
<circle cx="396.1" cy="680.2" r="3.8" fill="#b3b3b3"/>
<circle cx="396.1" cy="695.0" r="3.8" fill="#b3b3b3"/>
<circle cx="396.1" cy="709.8" r="3.8" fill="#b3b3b3"/>
<circle cx="396.1" cy="724.5" r="3.8" fill="#b3b3b3"/>
<circle cx="421.4" cy="724.5" r="3.8" fill="#4d4d4d"/>
<circle cx="430.1" cy="724.5" r="3.8" fill="#4d4d4d"/>
<circle cx="438.1" cy="724.5" r="3.8" fill="#4d4d4d"/>
<circle cx="443.0" cy="724.5" r="3.8" fill="#4d4d4d"/>
<rect x="465.1" y="391.0" width="67.4" height="342.3" fill="none" stroke="#333" stroke-width="1.5"/>
<path d="M469.4,397.3L474.4,402.3M469.4,402.3L474.4,397.3" stroke="#333" stroke-width="0.9" fill="none"/>
<path d="M469.4,412.1L474.4,417.1M469.4,417.1L474.4,412.1" stroke="#333" stroke-width="0.9" fill="none"/>
<path d="M469.4,426.8L474.4,431.8M469.4,431.8L474.4,426.8" stroke="#333" stroke-width="0.9" fill="none"/>
<path d="M469.4,441.6L474.4,446.6M469.4,446.6L474.4,441.6" stroke="#333" stroke-width="0.9" fill="none"/>
<path d="M469.4,456.3L474.4,461.3M469.4,461.3L474.4,456.3" stroke="#333" stroke-width="0.9" fill="none"/>
<path d="M469.4,471.1L474.4,476.1M469.4,476.1L474.4,471.1" stroke="#333" stroke-width="0.9" fill="none"/>
<path d="M469.4,485.9L474.4,490.9M469.4,490.9L474.4,485.9" stroke="#333" stroke-width="0.9" fill="none"/>
<path d="M469.4,500.6L474.4,505.6M469.4,505.6L474.4,500.6" stroke="#333" stroke-width="0.9" fill="none"/>
<circle cx="471.9" cy="517.9" r="3.8" fill="#b3b3b3"/>
<path d="M469.4,530.1L474.4,535.1M469.4,535.1L474.4,530.1" stroke="#333" stroke-width="0.9" fill="none"/>
<path d="M469.4,544.9L474.4,549.9M469.4,549.9L474.4,544.9" stroke="#333" stroke-width="0.9" fill="none"/>
<path d="M469.4,559.7L474.4,564.7M469.4,564.7L474.4,559.7" stroke="#333" stroke-width="0.9" fill="none"/>
<path d="M469.4,574.4L474.4,579.4M469.4,579.4L474.4,574.4" stroke="#333" stroke-width="0.9" fill="none"/>
<path d="M469.4,589.2L474.4,594.2M469.4,594.2L474.4,589.2" stroke="#333" stroke-width="0.9" fill="none"/>
<path d="M469.4,603.9L474.4,608.9M469.4,608.9L474.4,603.9" stroke="#333" stroke-width="0.9" fill="none"/>
<path d="M469.4,618.7L474.4,623.7M469.4,623.7L474.4,618.7" stroke="#333" stroke-width="0.9" fill="none"/>
<path d="M469.4,633.5L474.4,638.5M469.4,638.5L474.4,633.5" stroke="#333" stroke-width="0.9" fill="none"/>
<path d="M469.4,648.2L474.4,653.2M469.4,653.2L474.4,648.2" stroke="#333" stroke-width="0.9" fill="none"/>
<path d="M469.4,663.0L474.4,668.0M469.4,668.0L474.4,663.0" stroke="#333" stroke-width="0.9" fill="none"/>
<circle cx="471.9" cy="680.2" r="3.8" fill="#b3b3b3"/>
<path d="M469.4,692.5L474.4,697.5M469.4,697.5L474.4,692.5" stroke="#333" stroke-width="0.9" fill="none"/>
<circle cx="471.9" cy="709.8" r="3.8" fill="#b3b3b3"/>
<path d="M469.4,722.0L474.4,727.0M469.4,727.0L474.4,722.0" stroke="#333" stroke-width="0.9" fill="none"/>
<text x="204.4" y="783.4" font-size="13.0" text-anchor="end">Responsive to induction</text>
<text x="204.4" y="798.7" font-size="13.0" text-anchor="end">and relapsed</text>
<text x="254.8" y="754.6" font-size="11.45" text-anchor="end">T024</text>
<text x="254.8" y="769.4" font-size="11.45" text-anchor="end">T003</text>
<text x="254.8" y="784.1" font-size="11.45" text-anchor="end">T022</text>
<text x="254.8" y="798.9" font-size="11.45" text-anchor="end">L029</text>
<text x="254.8" y="813.6" font-size="11.45" text-anchor="end">T016</text>
<text x="254.8" y="828.4" font-size="11.45" text-anchor="end">T029</text>
<line x1="335.6" y1="741.9" x2="335.6" y2="833.0" stroke="#000" stroke-width="1.65" stroke-dasharray="6.38 6.38"/>
<rect x="263.5" y="741.9" width="102.9" height="91.1" fill="none" stroke="#333" stroke-width="1.5"/>
<circle cx="291.7" cy="750.5" r="2.6" fill="#23a6dd"/>
<circle cx="294.7" cy="765.3" r="2.6" fill="#23a6dd"/>
<circle cx="309.3" cy="780.0" r="2.6" fill="#23a6dd"/>
<circle cx="315.5" cy="794.8" r="2.6" fill="#23a6dd"/>
<circle cx="315.5" cy="809.5" r="2.6" fill="#23a6dd"/>
<circle cx="317.5" cy="824.3" r="2.6" fill="#23a6dd"/>
<rect x="389.3" y="741.9" width="67.4" height="91.1" fill="none" stroke="#333" stroke-width="1.5"/>
<circle cx="396.1" cy="750.5" r="3.8" fill="#b3b3b3"/>
<circle cx="396.1" cy="765.3" r="3.8" fill="#b3b3b3"/>
<circle cx="396.1" cy="780.0" r="3.8" fill="#b3b3b3"/>
<circle cx="431.6" cy="780.0" r="3.8" fill="#4d4d4d"/>
<circle cx="435.1" cy="780.0" r="3.8" fill="#4d4d4d"/>
<circle cx="445.3" cy="780.0" r="3.8" fill="#4d4d4d"/>
<circle cx="396.1" cy="794.8" r="3.8" fill="#b3b3b3"/>
<circle cx="396.1" cy="809.5" r="3.8" fill="#b3b3b3"/>
<circle cx="396.1" cy="824.3" r="3.8" fill="#b3b3b3"/>
<rect x="465.1" y="741.9" width="67.4" height="91.1" fill="none" stroke="#333" stroke-width="1.5"/>
<circle cx="471.9" cy="750.5" r="3.8" fill="#b3b3b3"/>
<path d="M469.4,762.8L474.4,767.8M469.4,767.8L474.4,762.8" stroke="#333" stroke-width="0.9" fill="none"/>
<path d="M469.4,777.5L474.4,782.5M469.4,782.5L474.4,777.5" stroke="#333" stroke-width="0.9" fill="none"/>
<path d="M469.4,792.3L474.4,797.3M469.4,797.3L474.4,792.3" stroke="#333" stroke-width="0.9" fill="none"/>
<circle cx="471.9" cy="809.5" r="3.8" fill="#b3b3b3"/>
<circle cx="471.9" cy="824.3" r="3.8" fill="#b3b3b3"/>
<rect x="616.9" y="741.9" width="67.4" height="91.1" fill="none" stroke="#333" stroke-width="1.5"/>
<circle cx="623.7" cy="750.5" r="3.8" fill="#b3b3b3"/>
<path d="M621.2,762.8L626.2,767.8M621.2,767.8L626.2,762.8" stroke="#333" stroke-width="0.9" fill="none"/>
<path d="M621.2,777.5L626.2,782.5M621.2,782.5L626.2,777.5" stroke="#333" stroke-width="0.9" fill="none"/>
<path d="M621.2,792.3L626.2,797.3M621.2,797.3L626.2,792.3" stroke="#333" stroke-width="0.9" fill="none"/>
<path d="M621.2,807.0L626.2,812.0M621.2,812.0L626.2,807.0" stroke="#333" stroke-width="0.9" fill="none"/>
<circle cx="623.7" cy="824.3" r="3.8" fill="#b3b3b3"/>
<text x="204.4" y="875.8" font-size="13.0" text-anchor="end">Induction failure and in remission</text>
<text x="254.8" y="854.3" font-size="11.45" text-anchor="end">T012</text>
<text x="254.8" y="869.1" font-size="11.45" text-anchor="end">T006</text>
<text x="254.8" y="883.8" font-size="11.45" text-anchor="end">T019</text>
<text x="254.8" y="898.6" font-size="11.45" text-anchor="end">L086</text>
<line x1="335.6" y1="841.3" x2="335.6" y2="903.1" stroke="#000" stroke-width="1.65" stroke-dasharray="6.38 6.38"/>
<rect x="263.5" y="841.3" width="102.9" height="61.8" fill="none" stroke="#333" stroke-width="1.5"/>
<circle cx="337.3" cy="850.2" r="2.6" fill="#f5821e"/>
<circle cx="340.8" cy="865.0" r="2.6" fill="#f5821e"/>
<circle cx="340.6" cy="879.7" r="2.6" fill="#f5821e"/>
<circle cx="343.5" cy="894.5" r="2.6" fill="#f5821e"/>
<rect x="389.3" y="841.3" width="67.4" height="61.8" fill="none" stroke="#333" stroke-width="1.5"/>
<circle cx="396.1" cy="850.2" r="3.8" fill="#b3b3b3"/>
<circle cx="405.8" cy="850.2" r="3.8" fill="#4d4d4d"/>
<circle cx="407.5" cy="850.2" r="3.8" fill="#4d4d4d"/>
<circle cx="415.2" cy="850.2" r="3.8" fill="#4d4d4d"/>
<circle cx="428.6" cy="850.2" r="3.8" fill="#4d4d4d"/>
<circle cx="396.1" cy="865.0" r="3.8" fill="#b3b3b3"/>
<circle cx="396.1" cy="879.7" r="3.8" fill="#b3b3b3"/>
<circle cx="409.8" cy="879.7" r="3.8" fill="#4d4d4d"/>
<circle cx="412.3" cy="879.7" r="3.8" fill="#4d4d4d"/>
<circle cx="415.2" cy="879.7" r="3.8" fill="#4d4d4d"/>
<circle cx="418.5" cy="879.7" r="3.8" fill="#4d4d4d"/>
<circle cx="413.0" cy="894.5" r="3.8" fill="#4d4d4d"/>
<circle cx="416.2" cy="894.5" r="3.8" fill="#4d4d4d"/>
<circle cx="418.7" cy="894.5" r="3.8" fill="#4d4d4d"/>
<circle cx="421.4" cy="894.5" r="3.8" fill="#4d4d4d"/>
<circle cx="424.4" cy="894.5" r="3.8" fill="#4d4d4d"/>
<circle cx="435.1" cy="894.5" r="3.8" fill="#4d4d4d"/>
<circle cx="437.8" cy="894.5" r="3.8" fill="#4d4d4d"/>
<rect x="465.1" y="841.3" width="67.4" height="61.8" fill="none" stroke="#333" stroke-width="1.5"/>
<path d="M469.4,847.7L474.4,852.7M469.4,852.7L474.4,847.7" stroke="#333" stroke-width="0.9" fill="none"/>
<path d="M469.4,862.5L474.4,867.5M469.4,867.5L474.4,862.5" stroke="#333" stroke-width="0.9" fill="none"/>
<circle cx="471.9" cy="879.7" r="3.8" fill="#b3b3b3"/>
<circle cx="484.7" cy="879.7" r="3.8" fill="#4d4d4d"/>
<path d="M469.4,892.0L474.4,897.0M469.4,897.0L474.4,892.0" stroke="#333" stroke-width="0.9" fill="none"/>
<rect x="540.8" y="841.3" width="67.4" height="61.8" fill="none" stroke="#333" stroke-width="1.5"/>
<path d="M545.1,847.7L550.1,852.7M545.1,852.7L550.1,847.7" stroke="#333" stroke-width="0.9" fill="none"/>
<path d="M545.1,862.5L550.1,867.5M545.1,867.5L550.1,862.5" stroke="#333" stroke-width="0.9" fill="none"/>
<path d="M545.1,877.2L550.1,882.2M545.1,882.2L550.1,877.2" stroke="#333" stroke-width="0.9" fill="none"/>
<path d="M545.1,892.0L550.1,897.0M545.1,897.0L550.1,892.0" stroke="#333" stroke-width="0.9" fill="none"/>
<text x="204.4" y="931.3" font-size="13.0" text-anchor="end">Induction failure and relapsed</text>
<text x="254.8" y="924.4" font-size="11.45" text-anchor="end">T014</text>
<text x="254.8" y="939.2" font-size="11.45" text-anchor="end">T004</text>
<line x1="335.6" y1="911.6" x2="335.6" y2="943.9" stroke="#000" stroke-width="1.65" stroke-dasharray="6.38 6.38"/>
<rect x="263.5" y="911.6" width="102.9" height="32.2" fill="none" stroke="#333" stroke-width="1.5"/>
<circle cx="338.1" cy="920.3" r="2.6" fill="#f5821e"/>
<circle cx="351.0" cy="935.1" r="2.6" fill="#f5821e"/>
<rect x="389.3" y="911.6" width="67.4" height="32.2" fill="none" stroke="#333" stroke-width="1.5"/>
<circle cx="413.7" cy="920.3" r="3.8" fill="#4d4d4d"/>
<circle cx="416.0" cy="920.3" r="3.8" fill="#4d4d4d"/>
<circle cx="419.0" cy="920.3" r="3.8" fill="#4d4d4d"/>
<circle cx="421.7" cy="920.3" r="3.8" fill="#4d4d4d"/>
<circle cx="443.5" cy="920.3" r="3.8" fill="#4d4d4d"/>
<circle cx="396.1" cy="935.1" r="3.8" fill="#b3b3b3"/>
<rect x="465.1" y="911.6" width="67.4" height="32.2" fill="none" stroke="#333" stroke-width="1.5"/>
<circle cx="499.6" cy="920.3" r="3.8" fill="#4d4d4d"/>
<circle cx="502.8" cy="920.3" r="3.8" fill="#4d4d4d"/>
<circle cx="506.6" cy="920.3" r="3.8" fill="#4d4d4d"/>
<circle cx="518.0" cy="920.3" r="3.8" fill="#4d4d4d"/>
<circle cx="526.2" cy="920.3" r="3.8" fill="#4d4d4d"/>
<path d="M469.4,932.6L474.4,937.6M469.4,937.6L474.4,932.6" stroke="#333" stroke-width="0.9" fill="none"/>
<rect x="540.8" y="911.6" width="67.4" height="32.2" fill="none" stroke="#333" stroke-width="1.5"/>
<circle cx="568.6" cy="920.3" r="3.8" fill="#4d4d4d"/>
<circle cx="572.6" cy="920.3" r="3.8" fill="#4d4d4d"/>
<circle cx="576.0" cy="920.3" r="3.8" fill="#4d4d4d"/>
<circle cx="579.0" cy="920.3" r="3.8" fill="#4d4d4d"/>
<circle cx="582.5" cy="920.3" r="3.8" fill="#4d4d4d"/>
<circle cx="595.6" cy="920.3" r="3.8" fill="#4d4d4d"/>
<path d="M545.1,932.6L550.1,937.6M545.1,937.6L550.1,932.6" stroke="#333" stroke-width="0.9" fill="none"/>
<rect x="616.9" y="911.6" width="67.4" height="32.2" fill="none" stroke="#333" stroke-width="1.5"/>
<circle cx="623.7" cy="920.3" r="3.8" fill="#b3b3b3"/>
<circle cx="633.9" cy="920.3" r="3.8" fill="#4d4d4d"/>
<circle cx="638.3" cy="920.3" r="3.8" fill="#4d4d4d"/>
<circle cx="643.3" cy="920.3" r="3.8" fill="#4d4d4d"/>
<circle cx="648.0" cy="920.3" r="3.8" fill="#4d4d4d"/>
<circle cx="652.7" cy="920.3" r="3.8" fill="#4d4d4d"/>
<path d="M621.2,932.6L626.2,937.6M621.2,937.6L626.2,932.6" stroke="#333" stroke-width="0.9" fill="none"/>
<text x="204.4" y="964.0" font-size="13.0" text-anchor="end">Only relapse sample was available</text>
<text x="254.8" y="965.1" font-size="11.45" text-anchor="end">T030</text>
<line x1="335.6" y1="952.3" x2="335.6" y2="969.8" stroke="#000" stroke-width="1.65" stroke-dasharray="6.38 6.38"/>
<rect x="263.5" y="952.3" width="102.9" height="17.5" fill="none" stroke="#333" stroke-width="1.5"/>
<circle cx="335.8" cy="961.0" r="2.6" fill="#f5821e"/>
<rect x="389.3" y="952.3" width="67.4" height="17.5" fill="none" stroke="#333" stroke-width="1.5"/>
<path d="M393.6,958.5L398.6,963.5M393.6,963.5L398.6,958.5" stroke="#333" stroke-width="0.9" fill="none"/>
<rect x="465.1" y="952.3" width="67.4" height="17.5" fill="none" stroke="#333" stroke-width="1.5"/>
<path d="M469.4,958.5L474.4,963.5M469.4,963.5L474.4,958.5" stroke="#333" stroke-width="0.9" fill="none"/>
<rect x="540.8" y="952.3" width="67.4" height="17.5" fill="none" stroke="#333" stroke-width="1.5"/>
<path d="M545.1,958.5L550.1,963.5M545.1,963.5L550.1,958.5" stroke="#333" stroke-width="0.9" fill="none"/>
<rect x="616.9" y="952.3" width="67.4" height="17.5" fill="none" stroke="#333" stroke-width="1.5"/>
<circle cx="623.7" cy="961.0" r="3.8" fill="#b3b3b3"/>
<circle cx="636.1" cy="961.0" r="3.8" fill="#4d4d4d"/>
<circle cx="639.8" cy="961.0" r="3.8" fill="#4d4d4d"/>
<circle cx="643.3" cy="961.0" r="3.8" fill="#4d4d4d"/>
<circle cx="646.5" cy="961.0" r="3.8" fill="#4d4d4d"/>
<circle cx="649.7" cy="961.0" r="3.8" fill="#4d4d4d"/>
<circle cx="652.7" cy="961.0" r="3.8" fill="#4d4d4d"/>
<text x="221.5" y="408.9" font-size="18" font-weight="bold" text-anchor="middle" fill="#000">*</text>
<rect x="277" y="995.0" width="11.2" height="11.1" fill="#2070b9"/>
<text x="294.3" y="1004.8" font-size="11.3">MRD = 0%</text>
<rect x="277" y="1010.2" width="11.2" height="11.1" fill="#23a6dd"/>
<text x="294.3" y="1019.8" font-size="11.3">MRD 0−1%</text>
<rect x="277" y="1025.4" width="11.2" height="11.1" fill="#9fd6ee"/>
<text x="294.3" y="1034.8" font-size="11.3">MRD 1−5%</text>
<rect x="277" y="1040.6" width="11.2" height="11.1" fill="#f5821e"/>
<text x="294.3" y="1049.8" font-size="11.3">MRD ≥ 5%</text>
<circle cx="408.5" cy="1000.6" r="3" fill="#b3b3b3"/>
<circle cx="408.5" cy="1016.5" r="3" fill="#4d4d4d"/>
<path d="M406.0,1030.7L411.0,1035.7M406.0,1035.7L411.0,1030.7" stroke="#333" stroke-width="0.9" fill="none"/>
<text x="418" y="1004.8" font-size="11.3"><tspan font-style="italic">ZBTB16</tspan>− blast clusters</text>
<text x="418" y="1020.3" font-size="11.3"><tspan font-style="italic">ZBTB16</tspan>+ blast clusters</text>
<text x="418" y="1036.3" font-size="11.37">No sample available or no blasts found</text>
</svg></body></html>
